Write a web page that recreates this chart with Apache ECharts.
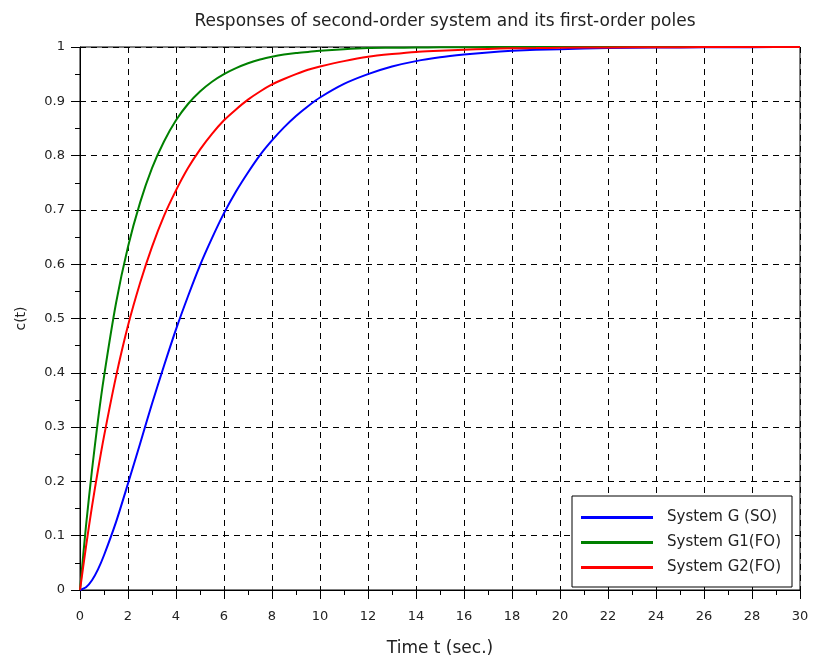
<!DOCTYPE html>
<html>
<head>
<meta charset="utf-8">
<script src="https://cdn.jsdelivr.net/npm/echarts@6/dist/echarts.min.js"></script>
<style>html,body{margin:0;padding:0;background:#fff;}#c{width:814px;height:664px;}</style>
</head>
<body>
<div id="c"></div>
<script>
const titleText = 'Responses of second-order system and its first-order poles';
const xName = 'Time t (sec.)';
const yName = 'c(t)';
const seriesNames = ['System G (SO)', 'System G1(FO)', 'System G2(FO)'];
const timeValues = [0,0.25,0.5,0.75,1,1.5,2,2.5,3,3.5,4,4.5,5,5.5,6,6.5,7,7.5,8,8.5,9,9.5,10,11,12,13,14,15,16,17,18,19,20,22,24,26,28,30];
const systemG = [0,0.005,0.018,0.038,0.064,0.125,0.196,0.269,0.343,0.413,0.480,0.541,0.598,0.648,0.694,0.734,0.769,0.801,0.828,0.852,0.873,0.891,0.907,0.932,0.950,0.964,0.974,0.981,0.986,0.990,0.993,0.995,0.996,0.998,0.999,0.9995,0.9997,0.9999];
const systemG1 = [0,0.118,0.221,0.313,0.393,0.528,0.632,0.713,0.777,0.826,0.865,0.895,0.918,0.936,0.950,0.961,0.970,0.977,0.982,0.986,0.989,0.991,0.993,0.996,0.998,0.9985,0.999,0.9994,0.9997,0.9998,0.9999,1,1,1,1,1,1,1];
const systemG2 = [0,0.080,0.154,0.221,0.283,0.393,0.487,0.565,0.632,0.689,0.736,0.777,0.811,0.840,0.865,0.885,0.903,0.918,0.931,0.941,0.950,0.958,0.964,0.974,0.982,0.987,0.991,0.993,0.995,0.9965,0.9975,0.998,0.9987,0.9993,0.9997,0.9998,0.9999,1];
const colors = ['#0000ff', '#008000', '#ff0000'];

function pairs(ys){ return timeValues.map((t,i)=>[t, ys[i]]); }
const FONT = 'DejaVu Sans';
const gridDash = [6,5];

const chart = echarts.init(document.getElementById('c'), null, {renderer:'canvas'});
chart.setOption({
  backgroundColor: '#ffffff',
  animation: false,
  title: {
    text: titleText,
    left: 440,
    top: 8,
    textAlign: 'center',
    textStyle: {fontFamily: FONT, fontSize: 17, fontWeight: 'normal', color: '#222'}
  },
  grid: {left: 80, right: 14, top: 47, bottom: 74, show: true, borderColor: '#000', borderWidth: 1, backgroundColor: 'transparent'},
  legend: {
    data: seriesNames,
    orient: 'vertical',
    left: 572,
    top: 496,
    padding: [14, 11, 12, 9],
    icon: 'rect',
    itemWidth: 72,
    itemHeight: 3,
    itemGap: 10,
    borderColor: '#000',
    borderWidth: 1,
    backgroundColor: '#fff',
    borderRadius: 0,
    textStyle: {fontFamily: FONT, fontSize: 15, color: '#222', padding: [0,0,0,9]}
  },
  xAxis: {
    type: 'value',
    min: 0, max: 30, interval: 2,
    name: xName,
    nameLocation: 'middle',
    nameGap: 50,
    nameTextStyle: {fontFamily: FONT, fontSize: 17, color: '#222'},
    axisLine: {show: true, onZero: false, lineStyle: {color: '#000', width: 1}},
    axisTick: {show: true, inside: false, length: 9, lineStyle: {color: '#000'}},
    minorTick: {show: true, splitNumber: 2, length: 5, lineStyle: {color: '#000'}},
    axisLabel: {fontFamily: FONT, fontSize: 13, color: '#222', margin: 20},
    splitLine: {show: true, lineStyle: {color: '#000', type: gridDash, width: 1}}
  },
  yAxis: {
    type: 'value',
    min: 0, max: 1, interval: 0.1,
    name: yName,
    nameLocation: 'middle',
    nameGap: 52,
    nameTextStyle: {fontFamily: FONT, fontSize: 14, color: '#222'},
    axisLine: {show: true, onZero: false, lineStyle: {color: '#000', width: 1}},
    axisTick: {show: true, inside: false, length: 9, lineStyle: {color: '#000'}},
    minorTick: {show: true, splitNumber: 2, length: 5, lineStyle: {color: '#000'}},
    axisLabel: {fontFamily: FONT, fontSize: 13, color: '#222', margin: 15},
    splitLine: {show: true, lineStyle: {color: '#000', type: gridDash, width: 1}}
  },
  series: [systemG, systemG1, systemG2].map((ys, i) => ({
    name: seriesNames[i],
    type: 'line',
    data: pairs(ys),
    symbol: 'none',
    smooth: 0.25,
    lineStyle: {color: colors[i], width: 2},
    itemStyle: {color: colors[i]},
    z: 3 + i
  }))
});
</script>
</body>
</html>
